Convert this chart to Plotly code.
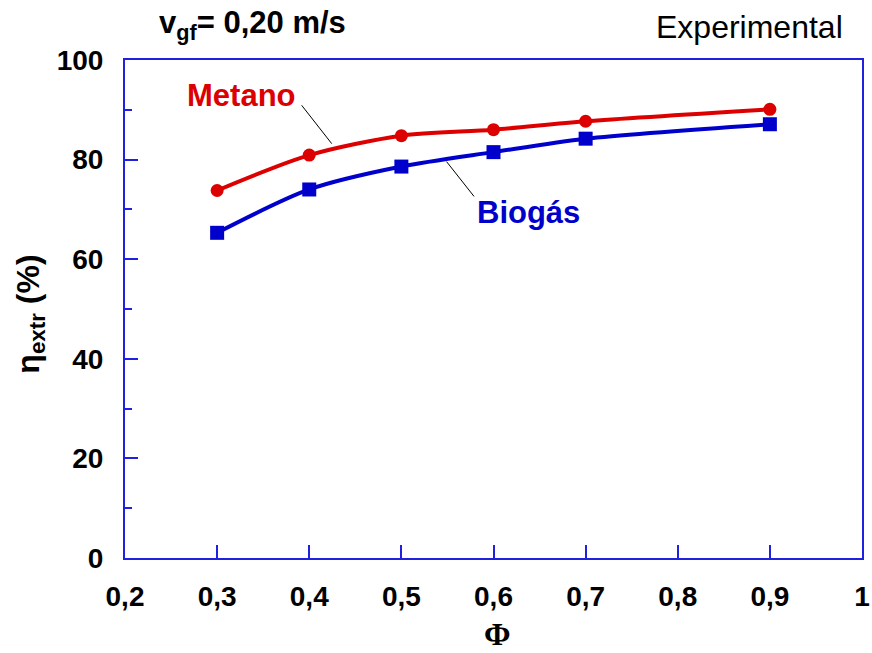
import plotly.graph_objects as go

# Equivalence ratio values
phi = [0.3, 0.4, 0.5, 0.6, 0.7, 0.9]

# Extraction efficiency (%) per fuel
eta_metano = [73.8, 80.9, 84.8, 86.0, 87.7, 90.1]
eta_biogas = [65.3, 74.0, 78.6, 81.5, 84.2, 87.1]

x_ticks = [0.2, 0.3, 0.4, 0.5, 0.6, 0.7, 0.8, 0.9, 1.0]
y_ticks = [0, 20, 40, 60, 80, 100]

RED = "#dd0000"
BLUE = "#0000cc"
AXIS = "#2020e0"
SANS = "Liberation Sans, Arial, sans-serif"

fig = go.Figure()

fig.add_trace(go.Scatter(
    x=phi, y=eta_metano, mode="lines+markers", name="Metano",
    line=dict(color=RED, width=4, shape="spline", smoothing=0.8),
    marker=dict(symbol="circle", size=13, color=RED),
))
fig.add_trace(go.Scatter(
    x=phi, y=eta_biogas, mode="lines+markers", name="Biogás",
    line=dict(color=BLUE, width=4, shape="spline", smoothing=0.8),
    marker=dict(symbol="square", size=14, color=BLUE),
))

# Leader lines from the series labels to the curves
fig.add_shape(type="line", x0=0.3918, y0=90.9, x1=0.4244, y1=83.2,
              line=dict(color="black", width=1))
fig.add_shape(type="line", x0=0.549, y0=79.6, x1=0.5789, y1=72.6,
              line=dict(color="black", width=1))

annotations = [
    dict(text="<b>Metano</b>", x=0.326, y=92.9, xref="x", yref="y", showarrow=False,
         font=dict(family=SANS, size=31, color=RED), xanchor="center", yanchor="middle"),
    dict(text="<b>Biogás</b>", x=0.6376, y=69.4, xref="x", yref="y", showarrow=False,
         font=dict(family=SANS, size=31, color=BLUE), xanchor="center", yanchor="middle"),
    dict(text="<b>v<sub>gf</sub>= 0,20 m/s</b>", x=0.043, y=1.07, xref="paper", yref="paper",
         showarrow=False, font=dict(family=SANS, size=31, color="black"),
         xanchor="left", yanchor="middle"),
    dict(text="Experimental", x=0.977, y=1.066, xref="paper", yref="paper",
         showarrow=False, font=dict(family=SANS, size=32, color="black"),
         xanchor="right", yanchor="middle"),
    dict(text="<b>η<sub>extr</sub> (%)</b>", x=-0.128, y=0.49, xref="paper", yref="paper",
         showarrow=False, textangle=-90, font=dict(family=SANS, size=32, color="black"),
         xanchor="center", yanchor="middle"),
    dict(text="<b>Φ</b>", x=0.505, y=-0.153, xref="paper", yref="paper",
         showarrow=False, font=dict(family="Liberation Serif, Times New Roman, serif",
                                    size=32, color="black"),
         xanchor="center", yanchor="middle"),
]

fig.update_layout(
    width=872, height=653,
    margin=dict(l=125, r=10, t=60, b=95, autoexpand=False),
    paper_bgcolor="white", plot_bgcolor="white",
    showlegend=False,
    separators=",.",
    annotations=annotations,
    xaxis=dict(
        range=[0.2, 1.0], tickvals=x_ticks,
        ticktext=[("%g" % v).replace(".", ",") for v in x_ticks],
        ticks="inside", ticklen=13, tickwidth=1.5, tickcolor=AXIS,
        showline=True, linecolor=AXIS, linewidth=2, mirror=True,
        showgrid=False, zeroline=False, automargin=False,
        tickfont=dict(family=SANS, size=28, color="black", weight="bold"),
        ticklabelstandoff=12,
    ),
    yaxis=dict(
        range=[0, 100], tickvals=y_ticks,
        ticks="inside", ticklen=13, tickwidth=1.5, tickcolor=AXIS,
        minor=dict(dtick=10, ticks="inside", ticklen=7, tickwidth=1.5, tickcolor=AXIS),
        showline=True, linecolor=AXIS, linewidth=2, mirror=True,
        showgrid=False, zeroline=False, automargin=False,
        tickfont=dict(family=SANS, size=28, color="black", weight="bold"),
        ticklabelstandoff=14,
    ),
)

fig.write_html("out.html")
